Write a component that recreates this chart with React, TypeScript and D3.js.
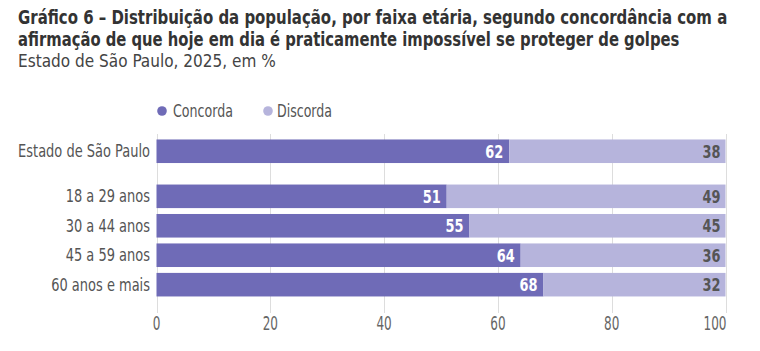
import React, { useLayoutEffect, useRef, useState } from "react";
import * as d3 from "d3";

const categories = ["18 a 29 anos", "30 a 44 anos", "45 a 59 anos", "60 anos e mais"];
const concorda = [51, 55, 64, 68];
const discorda = [49, 45, 36, 32];
const totalLabel = "Estado de São Paulo";
const totalConcorda = 62;
const totalDiscorda = 38;
const ticks = [0, 20, 40, 60, 80, 100];
const seriesNames = ["Concorda", "Discorda"];
const titleLines = [
  "Gráfico 6 – Distribuição da população, por faixa etária, segundo concordância com a",
  "afirmação de que hoje em dia é praticamente impossível se proteger de golpes",
];
const subtitle = "Estado de São Paulo, 2025, em %";

const W = 760, H = 351;
const DARK = "#6f6bb7", LIGHT = "#b6b4dc";
const FONT = "'DejaVu Sans Condensed', 'Liberation Sans Narrow', Roboto, sans-serif";

type FitProps = {
  x: number; y: number; width?: number; sx?: number; anchor?: string;
  size: number; weight?: string; fill: string; children: React.ReactNode;
};

function FitText({ x, y, width, sx, anchor = "start", size, weight = "normal", fill, children }: FitProps) {
  const ref = useRef<SVGTextElement>(null);
  const [s, setS] = useState(sx ?? 1);
  useLayoutEffect(() => {
    if (width && ref.current) {
      const n = ref.current.getComputedTextLength();
      if (n > 0) setS(width / n);
    }
  }, [width, children]);
  return (
    <text ref={ref} transform={`translate(${x},${y}) scale(${width ? s : sx ?? 1},1)`} textAnchor={anchor}
      fontSize={size} fontWeight={weight} fill={fill} fontFamily={FONT}>
      {children}
    </text>
  );
}

export default function App() {
  const x = d3.scaleLinear().domain([0, 100]).range([156.5, 725.5]);
  const y = d3.scaleBand<string>().domain(categories).range([181, 300]).paddingInner(0.2).paddingOuter(0.12);
  const step = y.step();
  const bh = y.bandwidth();
  const rows = [
    { label: totalLabel, c: totalConcorda, d: totalDiscorda, y0: (y(categories[0]) as number) - step * 1.53 },
    ...categories.map((cat, i) => ({ label: cat, c: concorda[i], d: discorda[i], y0: y(cat) as number })),
  ];

  const catRef = useRef<SVGTextElement>(null);
  const tickRef = useRef<SVGTextElement>(null);
  const valRef = useRef<SVGTextElement>(null);
  const [f, setF] = useState({ cat: 0.8, tick: 0.65, val: 0.75 });
  useLayoutEffect(() => {
    const c = catRef.current?.getComputedTextLength() || 0;
    const t = tickRef.current?.getComputedTextLength() || 0;
    const v = valRef.current?.getComputedTextLength() || 0;
    setF({
      cat: c > 0 ? 132 / c : 0.8,
      tick: t > 0 ? 23 / t : 0.65,
      val: v > 0 ? 18 / v : 0.75,
    });
  }, []);

  return (
    <svg width={W} height={H} style={{ position: "absolute", left: 0, top: 0, background: "#fff" }} fontFamily={FONT}>
      <g visibility="hidden">
        <text ref={catRef} fontSize={18} fontFamily={FONT}>{totalLabel}</text>
        <text ref={tickRef} fontSize={19} fontFamily={FONT}>100</text>
        <text ref={valRef} fontSize={18} fontWeight="bold" fontFamily={FONT}>62</text>
      </g>
      <FitText x={18} y={24} width={710} size={20} weight="bold" fill="#333">{titleLines[0]}</FitText>
      <FitText x={18} y={46} width={662} size={20} weight="bold" fill="#333">{titleLines[1]}</FitText>
      <FitText x={18} y={67} width={258} size={18} fill="#444">{subtitle}</FitText>
      {/* legend */}
      <circle cx={162} cy={111} r={4.8} fill={DARK} />
      <FitText x={173} y={117} width={60} size={18} fill="#555">{seriesNames[0]}</FitText>
      <circle cx={268} cy={111} r={4.8} fill={LIGHT} />
      <FitText x={277} y={117} width={55} size={18} fill="#555">{seriesNames[1]}</FitText>
      {/* grid */}
      {ticks.map((t, i) => (
        <g key={t}>
          <line x1={Math.round(x(t)) + 0.5} x2={Math.round(x(t)) + 0.5} y1={134} y2={313} stroke="#dddddd" strokeWidth={1} />
          <FitText x={i === ticks.length - 1 ? x(t) + 1 : x(t)} y={330} sx={f.tick} size={19} fill="#666"
            anchor={i === ticks.length - 1 ? "end" : "middle"}>{t}</FitText>
        </g>
      ))}
      {rows.map((r) => (
        <g key={r.label}>
          <rect x={x(0)} y={r.y0} width={x(r.c) - x(0)} height={bh} fill={DARK} />
          <rect x={x(r.c)} y={r.y0} width={x(100) - x(r.c)} height={bh} fill={LIGHT} />
          <FitText x={150} y={r.y0 + bh / 2 + 6} sx={f.cat} size={18} fill="#555" anchor="end">{r.label}</FitText>
          <FitText x={x(r.c) - 6} y={r.y0 + bh / 2 + 6.5} sx={f.val} size={18} weight="bold" fill="#fff" anchor="end">{r.c}</FitText>
          <FitText x={x(100) - 5} y={r.y0 + bh / 2 + 6.5} sx={f.val} size={18} weight="bold" fill="#555" anchor="end">{r.d}</FitText>
        </g>
      ))}
    </svg>
  );
}
